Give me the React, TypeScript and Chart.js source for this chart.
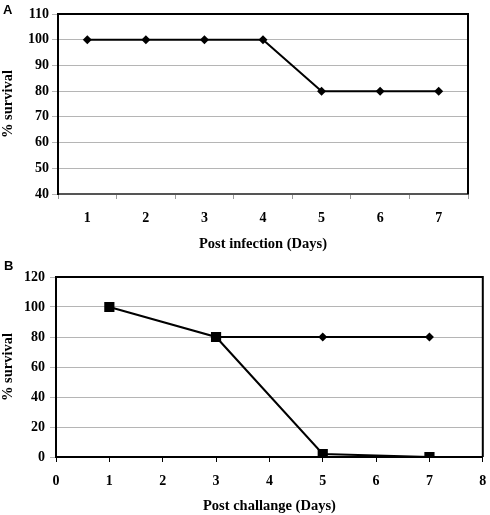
import React, { useEffect, useRef } from "react";
import { Chart, registerables } from "chart.js";

Chart.register(...registerables);

// Panel A data
const daysA = ["1", "2", "3", "4", "5", "6", "7"];
const survivalA = [100, 100, 100, 100, 80, 80, 80];

// Panel B data
const daysSquare = [1, 3, 5, 7];
const survivalSquare = [100, 80, 2, 0];
const daysDiamond = [3, 5, 7];
const survivalDiamond = [80, 80, 80];

const SERIF = '"Liberation Serif", "Times New Roman", serif';

const framePlugin = {
  id: "frame",
  beforeDatasetsDraw(chart: any) {
    const { ctx, chartArea } = chart;
    ctx.save();
    ctx.strokeStyle = "#000";
    ctx.lineWidth = 2;
    ctx.beginPath();
    ctx.moveTo(chartArea.left, chartArea.top);
    ctx.lineTo(chartArea.right, chartArea.top);
    ctx.lineTo(chartArea.right, chartArea.bottom);
    ctx.stroke();
    ctx.restore();
  },
};

const tickFont = { family: SERIF, size: 14, weight: "bold" as const };
const titleFont = { family: SERIF, size: 14.5, weight: "bold" as const };

function ChartA() {
  const ref = useRef<HTMLCanvasElement>(null);
  useEffect(() => {
    const chart = new Chart(ref.current!, {
      type: "line",
      data: {
        labels: daysA,
        datasets: [
          {
            data: survivalA,
            borderColor: "#000",
            backgroundColor: "#000",
            borderWidth: 2,
            pointStyle: "rectRot",
            pointRadius: 4.5,
            pointBorderWidth: 0,
            tension: 0,
          },
        ],
      },
      options: {
        animation: false,
        responsive: false,
        plugins: { legend: { display: false }, tooltip: { enabled: false } },
        layout: { padding: { top: 14, right: 22, left: 0, bottom: 0 } },
        scales: {
          x: {
            type: "category",
            offset: true,
            grid: { offset: true, drawOnChartArea: false, drawTicks: true, tickLength: 5, color: "#999" },
            border: { color: "#555", width: 2 },
            ticks: { color: "#000", font: tickFont, padding: 11 },
            title: { display: true, text: "Post infection (Days)", color: "#000", font: titleFont, padding: { top: 0, bottom: 4 } },
            afterFit: (s: any) => { s.height = 63; s.paddingLeft = 0; s.paddingRight = 0; },
          },
          y: {
            min: 40,
            max: 110,
            ticks: { stepSize: 10, color: "#000", font: tickFont, padding: 3 },
            grid: { color: "#b5b5b5", tickLength: 6, lineWidth: 1 },
            border: { color: "#000", width: 2 },
            title: { display: true, text: "% survival", color: "#000", font: titleFont, padding: { top: 0, bottom: 0 } },
            afterFit: (s: any) => { s.width = 58; },
          },
        },
      },
      plugins: [framePlugin],
    } as any);
    return () => chart.destroy();
  }, []);
  return <canvas ref={ref} width={490} height={257} style={{ display: "block" }} />;
}

function ChartB() {
  const ref = useRef<HTMLCanvasElement>(null);
  useEffect(() => {
    const chart = new Chart(ref.current!, {
      type: "line",
      data: {
        datasets: [
          {
            data: daysDiamond.map((d, i) => ({ x: d, y: survivalDiamond[i] })),
            borderColor: "#000",
            backgroundColor: "#000",
            borderWidth: 2,
            pointStyle: "rectRot",
            pointRadius: 4.5,
            pointBorderWidth: 0,
            tension: 0,
          },
          {
            data: daysSquare.map((d, i) => ({ x: d, y: survivalSquare[i] })),
            borderColor: "#000",
            backgroundColor: "#000",
            borderWidth: 2,
            pointStyle: "rect",
            pointRadius: 7.2,
            pointBorderWidth: 0,
            tension: 0,
          },
        ],
      },
      options: {
        animation: false,
        responsive: false,
        plugins: { legend: { display: false }, tooltip: { enabled: false } },
        layout: { padding: { top: 20, right: 5, left: 0, bottom: 0 } },
        scales: {
          x: {
            type: "linear",
            min: 0,
            max: 8,
            grid: { drawOnChartArea: false, drawTicks: true, tickLength: 5, color: "#000" },
            border: { color: "#000", width: 2 },
            ticks: { stepSize: 1, color: "#000", font: tickFont, padding: 11 },
            title: { display: true, text: "Post challange (Days)", color: "#000", font: titleFont, padding: { top: 0, bottom: 0 } },
            afterFit: (s: any) => { s.height = 58; s.paddingLeft = 0; s.paddingRight = 4; },
          },
          y: {
            min: 0,
            max: 120,
            ticks: { stepSize: 20, color: "#000", font: tickFont, padding: 5 },
            grid: { color: "#b5b5b5", tickLength: 6, lineWidth: 1 },
            border: { color: "#000", width: 2 },
            title: { display: true, text: "% survival", color: "#000", font: titleFont, padding: { top: 0, bottom: 0 } },
            afterFit: (s: any) => { s.width = 56; },
          },
        },
      },
      plugins: [framePlugin],
    } as any);
    return () => chart.destroy();
  }, []);
  return <canvas ref={ref} width={490} height={258} style={{ display: "block" }} />;
}

export default function App() {
  const letter: React.CSSProperties = {
    position: "absolute",
    fontFamily: '"Liberation Sans", Arial, sans-serif',
    fontWeight: "bold",
    fontSize: 13,
    lineHeight: "15px",
    color: "#000",
  };
  return (
    <div style={{ position: "absolute", left: 0, top: 0, width: 490, height: 515, background: "#fff" }}>
      <div style={{ position: "absolute", left: 0, top: 0 }}>
        <ChartA />
      </div>
      <div style={{ position: "absolute", left: 0, top: 257 }}>
        <ChartB />
      </div>
      <div style={{ ...letter, left: 3, top: 2 }}>A</div>
      <div style={{ ...letter, left: 4, top: 258 }}>B</div>
    </div>
  );
}
